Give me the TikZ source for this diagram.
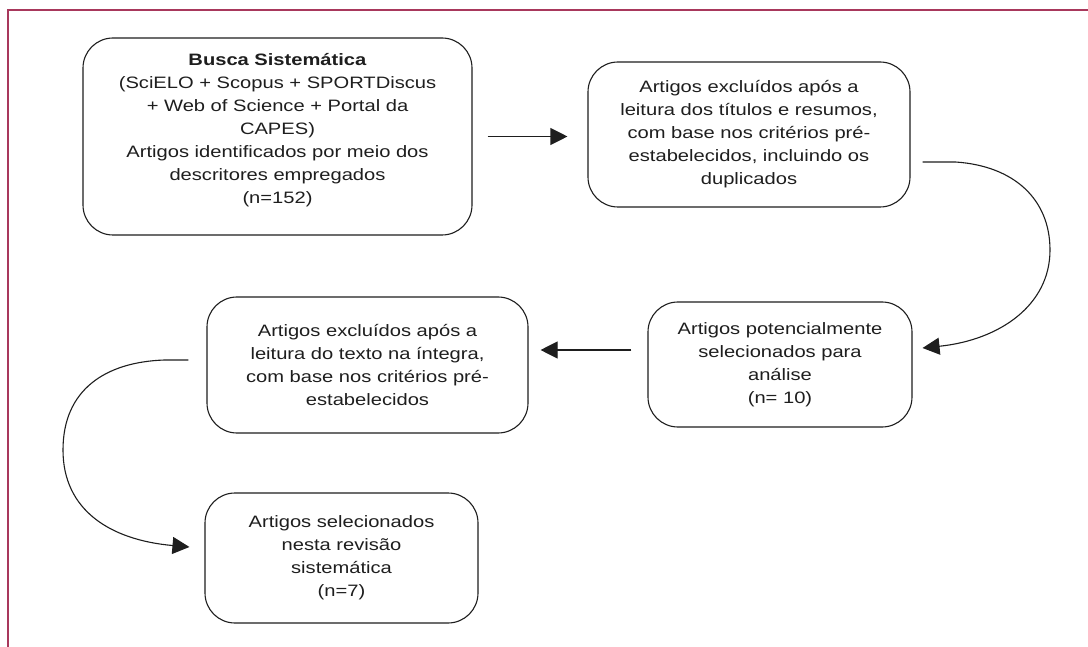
\documentclass[tikz,border=0pt]{standalone}
\usepackage{fontspec}
\setmainfont{Liberation Sans}[FakeStretch=1.22]
\usetikzlibrary{arrows.meta,calc}
\definecolor{framecol}{RGB}{168,56,92}
\definecolor{ink}{RGB}{30,30,30}
\tikzset{
  stage/.style={draw=ink, line width=1.1pt, rounded corners=30pt, inner sep=0pt,
    align=center, text=ink, font=\fontsize{16.5}{23}\selectfont},
  arr/.style={draw=ink, line width=1.1pt, -{Triangle[length=17pt,width=17pt]}}
}
\begin{document}
\begin{tikzpicture}[x=1pt,y=-1pt]
\useasboundingbox (0,0) rectangle (1088,647);
\fill[white] (0,0) rectangle (1088,647);
\draw[framecol, line width=2pt] (8,647) -- (8,10) -- (1088,10);

\node[stage, minimum width=389pt, minimum height=197pt] (b1) at (277.5,136.5)
  {\textbf{Busca Sistemática}\\(SciELO + Scopus + SPORTDiscus\\+ Web of Science + Portal da\\CAPES)\\Artigos identificados por meio dos\\descritores empregados\\(n=152)\rule[-16pt]{0pt}{0pt}};
\node[stage, minimum width=322pt, minimum height=145pt] (b2) at (749,134.5)
  {Artigos excluídos após a\\leitura dos títulos e resumos,\\com base nos critérios pré-\\estabelecidos, incluindo os\\duplicados};
\node[stage, minimum width=264pt, minimum height=125pt] (b3) at (780,364.5)
  {Artigos potencialmente\\selecionados para\\análise\\(n= 10)};
\node[stage, minimum width=321pt, minimum height=136pt] (b4) at (367.5,365)
  {Artigos excluídos após a\\leitura do texto na íntegra,\\com base nos critérios pré-\\estabelecidos};
\node[stage, minimum width=273pt, minimum height=130pt] (b5) at (341.5,558)
  {Artigos selecionados\\nesta revisão\\sistemática\\(n=7)};

\draw[arr, shorten <=15pt, shorten >=20pt] (b1.east) -- (b1.east -| b2.west);
\draw[arr, shorten <=16pt, shorten >=12pt] ($(b3.west)+(0,-14.5)$) -- ($(b4.east)+(0,-15)$);
\draw[arr] ($(b2.east)+(12,27.5)$) -- ++(33,0)
  .. controls (1015,166) and (1050,200) .. (1050,250)
  .. controls (1050,305) and (1000,340) .. ($(b3.east)+(10,-16.5)$);
\draw[arr] ($(b4.west)+(-18,-5)$) -- ++(-24,0)
  .. controls (105,362) and (63,390) .. (63,450)
  .. controls (63,510) and (110,540) .. ($(b5.west)+(-15,-11)$);
\end{tikzpicture}
\end{document}
